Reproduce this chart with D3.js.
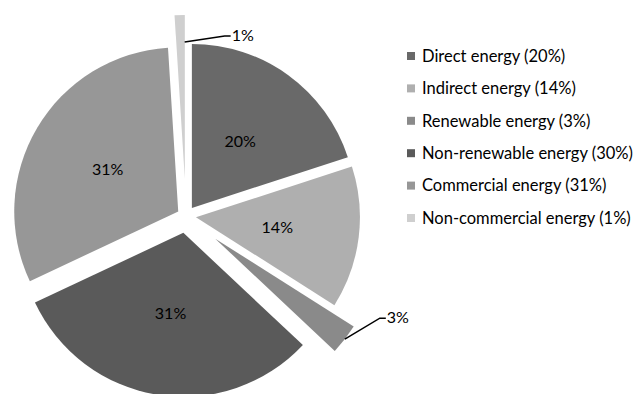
<!DOCTYPE html>
<html><head><meta charset="utf-8">
<script src="https://cdn.jsdelivr.net/npm/d3@7"></script>
<style>
html,body{margin:0;padding:0;background:#fff;}
svg{display:block;}
text{font-family:Lato,"Open Sans",sans-serif;fill:#000;}
</style></head>
<body>
<svg id="chart" width="634" height="394"></svg>
<script>
const categories = ["Direct energy","Indirect energy","Renewable energy","Non-renewable energy","Commercial energy","Non-commercial energy"];
const values = [20,14,3,31,31,1];
const legendLabels = ["Direct energy (20%)","Indirect energy (14%)","Renewable energy (3%)","Non-renewable energy (30%)","Commercial energy (31%)","Non-commercial energy (1%)"];
const colors = ["#696969","#afafaf","#8a8a8a","#5a5a5a","#979797","#cfcfcf"];
const explode = [10,10,37,17,9,37];

const W = 634, H = 394;
const cx = 186, cy = 216, R = 164;
const svg = d3.select("#chart");

const pie = d3.pie().sort(null).value(d => d)(values);
const arc = d3.arc().innerRadius(0).outerRadius(R);
const polar = (a, r) => [Math.sin(a) * r, -Math.cos(a) * r];

const g = svg.append("g").attr("transform", `translate(${cx},${cy})`);
const slices = g.selectAll("g.slice").data(pie).join("g")
  .attr("class","slice")
  .attr("transform", (d,i) => {
    const m = (d.startAngle + d.endAngle) / 2;
    const [x,y] = polar(m, explode[i]);
    return `translate(${x},${y})`;
  });
slices.append("path").attr("d", arc).attr("fill", (d,i) => colors[i]);

// inside labels for large slices
slices.filter(d => d.data >= 5).append("text")
  .attr("transform", d => `translate(${arc.centroid(d)})`)
  .attr("text-anchor","middle").attr("dy","0.35em")
  .style("font-size","16px")
  .text(d => d.data + "%");

// outside labels with leader lines for small slices
const leader = {
  2: {a: 0.5, r: 1.0, dx: 35, dy: -21},
  5: {a: 0.98, r: 0.835, dx: 40, dy: -6}
};
slices.each(function(d,i){
  const L = leader[i];
  if (!L) return;
  const ang = d.startAngle + (d.endAngle - d.startAngle) * L.a;
  const [sx, sy] = polar(ang, R * L.r);
  const ex = sx + L.dx, ey = sy + L.dy;
  d3.select(this).append("polyline")
    .attr("points", `${sx},${sy} ${ex},${ey} ${ex+6},${ey}`)
    .attr("fill","none").attr("stroke","#000").attr("stroke-width",1.5);
  d3.select(this).append("text")
    .attr("x", ex + 7).attr("y", ey).attr("dy","0.3em")
    .style("font-size","16px")
    .text(d.data + "%");
});

// legend
const legend = svg.append("g").attr("transform","translate(407,56)");
const items = legend.selectAll("g").data(legendLabels).join("g")
  .attr("transform",(d,i) => `translate(0,${i*32.4})`);
items.append("rect").attr("x",0).attr("y",-4).attr("width",8).attr("height",8)
  .attr("fill",(d,i) => colors[i]);
items.append("text").attr("x",15).attr("y",0).attr("dy","0.35em")
  .style("font-size","16.5px").text(d => d);
</script>
</body></html>
